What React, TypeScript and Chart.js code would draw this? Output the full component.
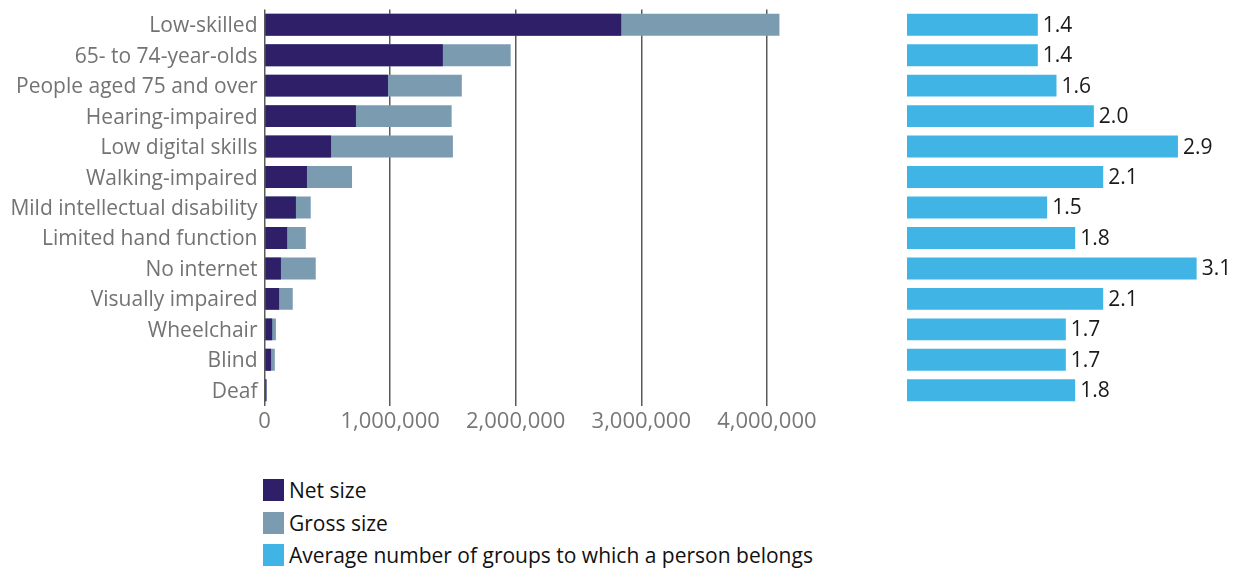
import React, { useEffect, useRef } from "react";
import { Chart, registerables } from "chart.js";

Chart.register(...registerables);

const categories = [
  "Low-skilled",
  "65- to 74-year-olds",
  "People aged 75 and over",
  "Hearing-impaired",
  "Low digital skills",
  "Walking-impaired",
  "Mild intellectual disability",
  "Limited hand function",
  "No internet",
  "Visually impaired",
  "Wheelchair",
  "Blind",
  "Deaf",
];
const netSize = [2840000, 1420000, 983000, 728000, 530000, 338000, 250000, 180000, 131000, 116000, 61000, 52000, 15000];
const grossSize = [4100000, 1960000, 1571000, 1490000, 1500000, 697000, 368000, 329000, 408000, 225000, 91000, 82000, 17000];
const avgGroups = [1.4, 1.4, 1.6, 2.0, 2.9, 2.1, 1.5, 1.8, 3.1, 2.1, 1.7, 1.7, 1.8];
const xTicks = [0, 1000000, 2000000, 3000000, 4000000];

const NET_COLOR = "#2e1f68";
const GROSS_COLOR = "#7b9bb1";
const AVG_COLOR = "#41b4e6";
const FONT = "'Open Sans'";

const legendItems = [
  { label: "Net size", color: NET_COLOR },
  { label: "Gross size", color: GROSS_COLOR },
  { label: "Average number of groups to which a person belongs", color: AVG_COLOR },
];

export default function App() {
  const leftRef = useRef<HTMLCanvasElement>(null);
  const rightRef = useRef<HTMLCanvasElement>(null);

  useEffect(() => {
    const left = new Chart(leftRef.current!, {
      type: "bar",
      data: {
        labels: categories,
        datasets: [
          { label: "Net size", data: netSize, backgroundColor: NET_COLOR, grouped: false, barPercentage: 0.72, categoryPercentage: 1 } as any,
          { label: "Gross size", data: grossSize, backgroundColor: GROSS_COLOR, grouped: false, barPercentage: 0.72, categoryPercentage: 1 } as any,
        ],
      },
      options: {
        indexAxis: "y",
        animation: false,
        responsive: false,
        maintainAspectRatio: false,
        layout: { padding: { left: 0, right: 48, top: 9.5, bottom: 0 } },
        plugins: { legend: { display: false }, tooltip: { enabled: false } },
        scales: {
          x: {
            min: 0,
            max: 4200000,
            afterBuildTicks: (axis: any) => {
              axis.ticks = xTicks.map((v) => ({ value: v }));
            },
            afterFit: (scale: any) => {
              scale.height = 34.5;
            },
            grid: { color: "#5a5a5a", lineWidth: 1.5, drawTicks: false },
            border: { display: false },
            ticks: {
              padding: 3,
              color: "#777777",
              font: { family: FONT, size: 22 },
              callback: (v: any) => Number(v).toLocaleString("en-US"),
            },
          },
          y: {
            afterFit: (scale: any) => {
              scale.width = 264.5;
              scale.paddingTop = 0;
              scale.paddingBottom = 0;
            },
            grid: { display: false, drawTicks: false },
            border: { display: false },
            ticks: {
              padding: 7,
              labelOffset: 1.5,
              color: "#737373",
              font: { family: FONT, size: 21 },
              autoSkip: false,
            },
          },
        },
      },
    });

    const valueLabels = {
      id: "valueLabels",
      afterDatasetsDraw(chart: any) {
        const ctx = chart.ctx;
        const meta = chart.getDatasetMeta(0);
        ctx.save();
        ctx.font = `21px ${FONT}`;
        ctx.fillStyle = "#1a1a1a";
        ctx.textBaseline = "middle";
        ctx.textAlign = "left";
        meta.data.forEach((bar: any, i: number) => {
          ctx.fillText(avgGroups[i].toFixed(1), bar.x + 5, bar.y + 1);
        });
        ctx.restore();
      },
    };

    const right = new Chart(rightRef.current!, {
      type: "bar",
      data: {
        labels: categories,
        datasets: [
          { label: "Average number of groups to which a person belongs", data: avgGroups, backgroundColor: AVG_COLOR, barPercentage: 0.72, categoryPercentage: 1 },
        ],
      },
      options: {
        indexAxis: "y",
        animation: false,
        responsive: false,
        maintainAspectRatio: false,
        layout: { padding: { left: 7, right: 7, top: 9.5, bottom: 34.5 } },
        plugins: { legend: { display: false }, tooltip: { enabled: false } },
        scales: {
          x: { display: false, min: 0, max: 3.5 },
          y: { display: false },
        },
      },
      plugins: [valueLabels],
    });

    return () => {
      left.destroy();
      right.destroy();
    };
  }, []);

  return (
    <div style={{ position: "absolute", left: 0, top: 0, width: 1241, height: 570, background: "#fff", fontFamily: FONT }}>
      <canvas ref={leftRef} width={840} height={440} style={{ position: "absolute", left: 0, top: 0, width: 840, height: 440 }} />
      <canvas ref={rightRef} width={341} height={440} style={{ position: "absolute", left: 900, top: 0, width: 341, height: 440 }} />
      <div style={{ position: "absolute", left: 263, top: 474 }}>
        {legendItems.map((it) => (
          <div key={it.label} style={{ display: "flex", alignItems: "center", height: 32.5 }}>
            <span style={{ display: "inline-block", width: 21, height: 22, background: it.color, marginRight: 5 }} />
            <span style={{ fontSize: 21, color: "#111", whiteSpace: "nowrap" }}>{it.label}</span>
          </div>
        ))}
      </div>
    </div>
  );
}
